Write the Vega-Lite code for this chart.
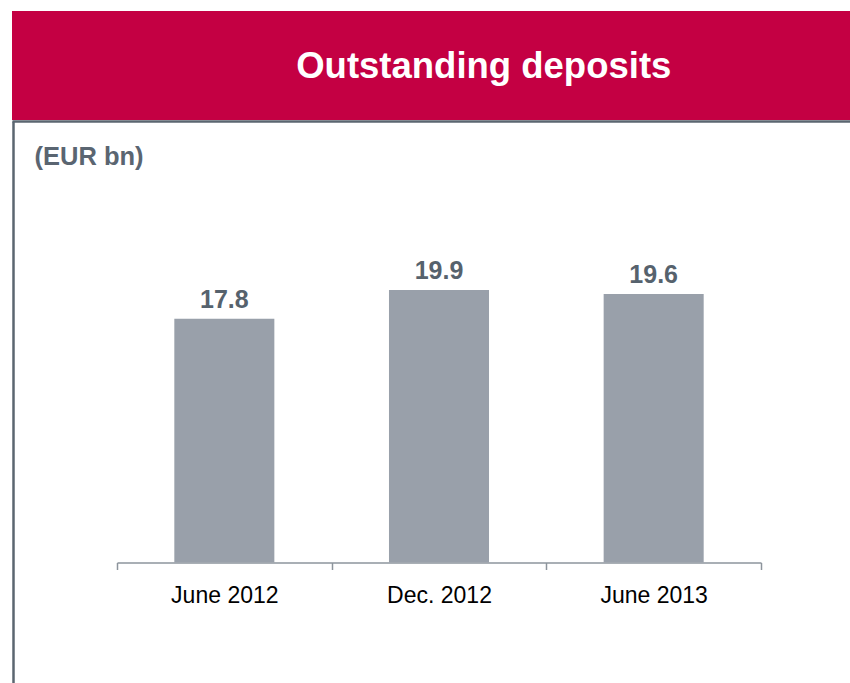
{
  "$schema": "https://vega.github.io/schema/vega-lite/v6.json",
  "background": "white",
  "padding": {"left": 12, "top": 11, "right": 0, "bottom": 0},
  "spacing": 0,
  "config": {"view": {"stroke": null}},
  "vconcat": [
    {
      "width": 838,
      "height": 109,
      "view": {"fill": "#c40043", "stroke": null},
      "data": {"values": [{"title": "Outstanding deposits"}]},
      "mark": {"type": "text", "color": "white", "font": "Liberation Sans", "fontWeight": "bold", "fontSize": 36.5, "baseline": "middle", "align": "center", "dy": 1},
      "encoding": {
        "text": {"field": "title"},
        "x": {"datum": 0.563, "type": "quantitative", "scale": {"domain": [0, 1]},
              "axis": {"domain": true, "domainColor": "#5b6670", "domainWidth": 2.5, "ticks": false, "labels": false, "grid": false, "title": null, "offset": 1}}
      }
    },
    {
      "width": 850,
      "height": 575,
      "data": {"values": [
        {"period": "June 2012", "value": 17.8},
        {"period": "Dec. 2012", "value": 19.9},
        {"period": "June 2013", "value": 19.6}
      ]},
      "encoding": {
        "x": {"field": "period", "type": "nominal", "sort": null,
              "scale": {"range": [105, 749], "paddingInner": 0, "paddingOuter": 0},
              "axis": {"title": null, "labelAngle": 0, "domainColor": "#8d949c", "domainWidth": 1.5, "tickBand": "extent", "tickSize": 7, "tickColor": "#8d949c", "tickWidth": 1.5, "labelFont": "Liberation Sans", "labelFontSize": 23, "labelColor": "#000000", "labelPadding": 15, "offset": -133.5, "grid": false}},
        "y": {"field": "value", "type": "quantitative",
              "scale": {"domain": [-9.74, 32.23], "nice": false, "zero": false},
              "axis": {"offset": -1, "domain": true, "domainColor": "#5b6670", "domainWidth": 2.5, "ticks": false, "labels": false, "grid": false,
                       "title": "(EUR bn)", "titleAngle": 0, "titleAlign": "left", "titleBaseline": "middle", "titleX": 21, "titleY": 35,
                       "titleFont": "Liberation Sans", "titleFontSize": 25.5, "titleFontWeight": "bold", "titleColor": "#5a6571"}}
      },
      "layer": [
        {"mark": {"type": "bar", "color": "#99a0aa", "width": {"band": 0.466}}},
        {"mark": {"type": "text", "baseline": "alphabetic", "dy": -11, "font": "Liberation Sans", "fontWeight": "bold", "fontSize": 25, "color": "#56626d"},
         "encoding": {"text": {"field": "value", "format": ".1f"}}}
      ]
    }
  ]
}
